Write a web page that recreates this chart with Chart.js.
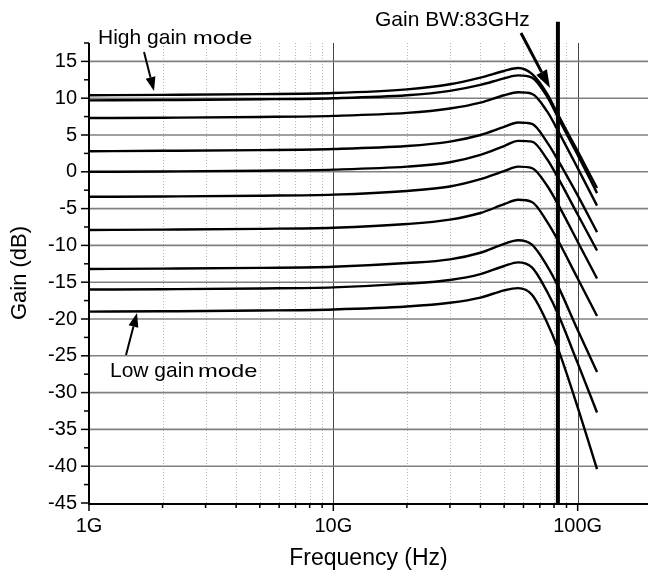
<!DOCTYPE html>
<html>
<head>
<meta charset="utf-8">
<script src="https://cdn.jsdelivr.net/npm/chart.js@4.4.1/dist/chart.umd.min.js"></script>
<style>
  html, body { margin: 0; padding: 0; background: #fff; }
  #wrap { width: 648px; height: 573px; position: relative; }
</style>
</head>
<body>
<div id="wrap"><canvas id="gain-canvas"></canvas></div>
<script>
// Gain vs frequency for the gain settings, high gain (top) to low gain (bottom).
var freqGHz = [1, 2, 5, 10, 20, 30, 40, 50, 57, 65, 75, 83, 100, 120];
var gain1  = [10.4, 10.45, 10.55, 10.7, 11.2, 11.9, 12.8, 13.7, 14.1, 13.3, 10.6, 7.8, 2.8, -2.2];
var gain2  = [9.7, 9.75, 9.85, 10.0, 10.4, 11.0, 11.8, 12.7, 13.1, 12.8, 10.2, 7.4, 2.3, -2.9];
var gain3  = [7.3, 7.35, 7.45, 7.6, 8.0, 8.6, 9.4, 10.4, 10.8, 10.6, 8.2, 5.6, 0.5, -4.6];
var gain4  = [2.8, 2.85, 2.95, 3.1, 3.5, 4.1, 5.0, 6.1, 6.7, 6.5, 4.0, 1.6, -3.2, -8.2];
var gain5  = [0.0, 0.05, 0.15, 0.3, 0.7, 1.3, 2.3, 3.5, 4.2, 4.1, 1.7, -0.8, -5.8, -10.7];
var gain6  = [-3.4, -3.35, -3.25, -3.1, -2.6, -2.0, -1.0, 0.1, 0.7, 0.5, -1.9, -4.4, -9.5, -14.5];
var gain7  = [-7.9, -7.85, -7.75, -7.6, -7.1, -6.5, -5.6, -4.4, -3.8, -4.1, -6.8, -9.3, -14.5, -19.6];
var gain8  = [-13.2, -13.15, -13.05, -12.9, -12.4, -11.9, -11.0, -9.8, -9.3, -9.9, -12.8, -15.5, -21.5, -27.2];
var gain9  = [-16.0, -15.95, -15.85, -15.7, -15.2, -14.7, -13.9, -12.8, -12.3, -13.0, -16.3, -19.3, -26.0, -32.7];
var gain10 = [-19.0, -18.95, -18.85, -18.7, -18.3, -17.8, -17.1, -16.1, -15.8, -16.7, -20.5, -24.0, -32.0, -40.4];
var gainSeries = [gain1, gain2, gain3, gain4, gain5, gain6, gain7, gain8, gain9, gain10];

// gain bandwidth marker
var bwFreqGHz = 83;
var bwGain = [-45, 20.4];

// axes
var xMinGHz = 1, xMaxGHz = 194;
var xDecadesGHz = [1, 10, 100];
var xDecadeLabels = ['1G', '10G', '100G'];
var yMin = -45, yMax = 17.5, yStep = 2.5, yLabelStep = 5;

var FONT = '"Liberation Sans", Arial, sans-serif';

function pts(ys) {
  return freqGHz.map(function (f, i) { return { x: f * 1e9, y: ys[i] }; });
}

var datasets = gainSeries.map(function (ys, i) {
  return {
    label: 'gain ' + (i + 1),
    data: pts(ys),
    borderColor: '#000',
    borderWidth: 2.4,
    pointRadius: 0,
    fill: false,
    cubicInterpolationMode: 'monotone'
  };
});
datasets.push({
  label: 'Gain BW',
  data: bwGain.map(function (g) { return { x: bwFreqGHz * 1e9, y: g }; }),
  borderColor: '#000',
  borderWidth: 4,
  pointRadius: 0,
  clip: false
});

function isMinor5(v) { return Math.abs(v / yLabelStep - Math.round(v / yLabelStep)) > 1e-6; }
function significand(v) { return v / Math.pow(10, Math.floor(Math.log10(v) + 1e-9)); }

function arrow(ctx, x1, y1, x2, y2, w, headLen, headW) {
  var a = Math.atan2(y2 - y1, x2 - x1);
  var bx = x2 - headLen * Math.cos(a), by = y2 - headLen * Math.sin(a);
  ctx.save();
  ctx.strokeStyle = '#000'; ctx.fillStyle = '#000'; ctx.lineWidth = w;
  ctx.beginPath(); ctx.moveTo(x1, y1); ctx.lineTo(bx, by); ctx.stroke();
  ctx.beginPath();
  ctx.moveTo(x2, y2);
  ctx.lineTo(bx + headW * Math.sin(a), by - headW * Math.cos(a));
  ctx.lineTo(bx - headW * Math.sin(a), by + headW * Math.cos(a));
  ctx.closePath(); ctx.fill();
  ctx.restore();
}

// the word "mode" is set smaller and wider than the rest of the label
function modeWord(ctx, x, y) {
  ctx.save();
  ctx.translate(x, y);
  ctx.scale(1.25, 1);
  ctx.font = '19px ' + FONT;
  ctx.fillText('mode', 0, 0);
  ctx.restore();
}

// grid: dotted minor decades, solid decades, solid 5 dB lines
var gridPlugin = {
  id: 'gridLines',
  beforeDatasetsDraw: function (chart) {
    var ctx = chart.ctx, a = chart.chartArea, xs = chart.scales.x, ys = chart.scales.y;
    ctx.save();
    xs.ticks.forEach(function (t) {
      var s = significand(t.value);
      if (Math.abs(s - Math.round(s)) > 1e-6) return;
      var px = Math.round(xs.getPixelForValue(t.value)) + 0.5;
      if (px <= a.left + 1) return;
      ctx.beginPath();
      if (Math.round(s) === 1) {
        ctx.setLineDash([]); ctx.strokeStyle = '#444'; ctx.lineWidth = 1;
      } else {
        ctx.setLineDash([1, 2]); ctx.strokeStyle = '#b8b8b8'; ctx.lineWidth = 1;
      }
      ctx.moveTo(px, a.top); ctx.lineTo(px, a.bottom); ctx.stroke();
    });
    ctx.setLineDash([]);
    ys.ticks.forEach(function (t) {
      if (isMinor5(t.value) || t.value <= yMin) return;
      var py = ys.getPixelForValue(t.value);
      ctx.beginPath(); ctx.strokeStyle = '#808080'; ctx.lineWidth = 1.6;
      ctx.moveTo(a.left, py); ctx.lineTo(a.right, py); ctx.stroke();
    });
    ctx.restore();
  },
  afterDraw: function (chart) {
    var ctx = chart.ctx, a = chart.chartArea, xs = chart.scales.x, ys = chart.scales.y;
    ctx.save();
    ctx.strokeStyle = '#000'; ctx.lineWidth = 2;
    ctx.beginPath();
    ctx.moveTo(a.left, a.top); ctx.lineTo(a.left, a.bottom + 1); ctx.lineTo(a.right, a.bottom + 1);
    ctx.stroke();
    ctx.lineWidth = 1.5;
    ys.ticks.forEach(function (t) {
      var py = ys.getPixelForValue(t.value);
      var len = isMinor5(t.value) ? 5 : 8;
      ctx.beginPath(); ctx.moveTo(a.left - len, py); ctx.lineTo(a.left, py); ctx.stroke();
    });
    xs.ticks.forEach(function (t) {
      var s = significand(t.value);
      if (Math.abs(s - Math.round(s)) > 1e-6) return;
      var px = xs.getPixelForValue(t.value);
      var len = Math.round(s) === 1 ? 8 : 5;
      ctx.beginPath(); ctx.moveTo(px, a.bottom); ctx.lineTo(px, a.bottom + len); ctx.stroke();
    });

    // annotations
    ctx.fillStyle = '#000';
    ctx.textBaseline = 'alphabetic';
    ctx.font = '21px ' + FONT;
    ctx.fillText('High gain', 98, 44);
    ctx.fillText('Gain BW:83GHz', 375, 26);
    ctx.fillText('Low gain', 110, 377);
    modeWord(ctx, 193, 44);
    modeWord(ctx, 198, 377);
    arrow(ctx, 144, 52, 154, 91, 2, 14, 5);
    arrow(ctx, 521, 33, 550, 88, 3, 18, 6);
    arrow(ctx, 126, 355, 137, 313, 2, 14, 5);
    ctx.restore();
  }
};

new Chart(document.getElementById('gain-canvas'), {
  type: 'line',
  data: { datasets: datasets },
  plugins: [gridPlugin],
  options: {
    responsive: true, maintainAspectRatio: false, animation: false,
    layout: { padding: { top: 43, right: 0, left: 0, bottom: 0 } },
    plugins: { legend: { display: false }, tooltip: { enabled: false } },
    scales: {
      x: {
        type: 'logarithmic',
        min: xMinGHz * 1e9, max: xMaxGHz * 1e9,
        grid: { display: false, drawTicks: false },
        border: { display: false },
        ticks: {
          autoSkip: false, maxRotation: 0, padding: 11, color: '#000',
          font: { family: FONT, size: 20 },
          callback: function (v) {
            var i = xDecadesGHz.indexOf(Math.round(v / 1e9 * 1000) / 1000);
            return i === -1 ? '' : xDecadeLabels[i];
          }
        },
        title: { display: true, text: 'Frequency (Hz)', color: '#000', font: { family: FONT, size: 23 }, padding: { top: 0, bottom: 1 } },
        afterFit: function (s) { s.height = 70; s.paddingLeft = 0; s.paddingRight = 0; }
      },
      y: {
        min: yMin, max: yMax,
        grid: { display: false, drawTicks: false },
        border: { display: false },
        ticks: {
          stepSize: yStep, autoSkip: false, padding: 12, color: '#000',
          font: { family: FONT, size: 20 },
          callback: function (v) { return isMinor5(v) ? '' : String(v); }
        },
        title: { display: true, text: 'Gain (dB)', color: '#000', font: { family: FONT, size: 22 }, padding: { top: 7, bottom: 0 } },
        afterFit: function (s) { s.width = 89; s.paddingTop = 0; s.paddingBottom = 0; }
      }
    }
  }
});
</script>
</body>
</html>
